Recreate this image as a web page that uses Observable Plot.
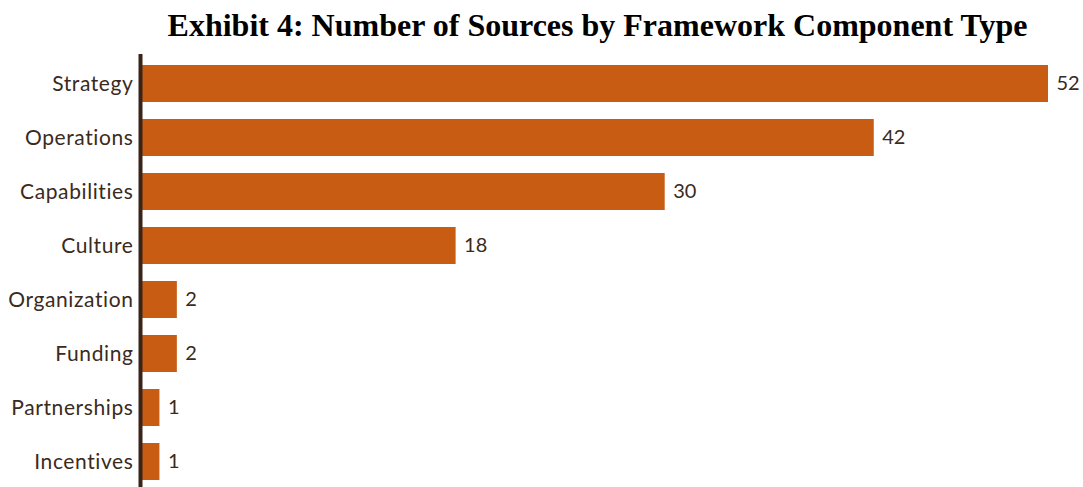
<!DOCTYPE html>
<html>
<head>
<meta charset="utf-8">
<script src="https://cdn.jsdelivr.net/npm/d3@7"></script>
<script src="https://cdn.jsdelivr.net/npm/@observablehq/plot@0.6"></script>
<style>
  html, body { margin: 0; padding: 0; background: #fff; overflow: hidden; }
  #title {
    width: 1083px; box-sizing: border-box; padding-left: 112px;
    height: 50px; line-height: 50px; text-align: center;
    font-family: "Liberation Serif", "Times New Roman", serif;
    font-weight: bold; font-size: 32px; color: #000; white-space: nowrap;
  }
  #chart g[aria-label="y-axis tick label"] text { letter-spacing: 0.6px; }
</style>
</head>
<body>
<div id="title">Exhibit 4: Number of Sources by Framework Component Type</div>
<div id="chart"></div>
<script>
const categories = ["Strategy", "Operations", "Capabilities", "Culture", "Organization", "Funding", "Partnerships", "Incentives"];
const counts = [52, 42, 30, 18, 2, 2, 1, 1];

const data = categories.map((c, i) => ({category: c, count: counts[i]}));

const barColor = "#C85C12";
const textColor = "#3b2a20";
const axisColor = "#3a2418";

const chart = Plot.plot({
  width: 1083,
  height: 450,
  marginLeft: 142,
  marginRight: 35,
  marginTop: 4,
  marginBottom: 10,
  style: {fontFamily: "Lato, sans-serif", fontSize: "19px", color: textColor, background: "#fff"},
  x: {domain: [0, 52], axis: null},
  y: {domain: categories, paddingInner: 0.32, paddingOuter: 0.165, axis: null},
  marks: [
    Plot.barX(data, {x: "count", y: "category", fill: barColor}),
    Plot.axisY({tickSize: 0, tickPadding: 9, label: null, fontSize: 21, fill: textColor}),
    Plot.text(data, {x: "count", y: "category", text: d => String(d.count), textAnchor: "start", dx: 8, fill: textColor, fontSize: 20}),
    Plot.ruleX([0], {stroke: axisColor, strokeWidth: 4, dx: -2})
  ]
});
document.getElementById("chart").appendChild(chart);
</script>
</body>
</html>
